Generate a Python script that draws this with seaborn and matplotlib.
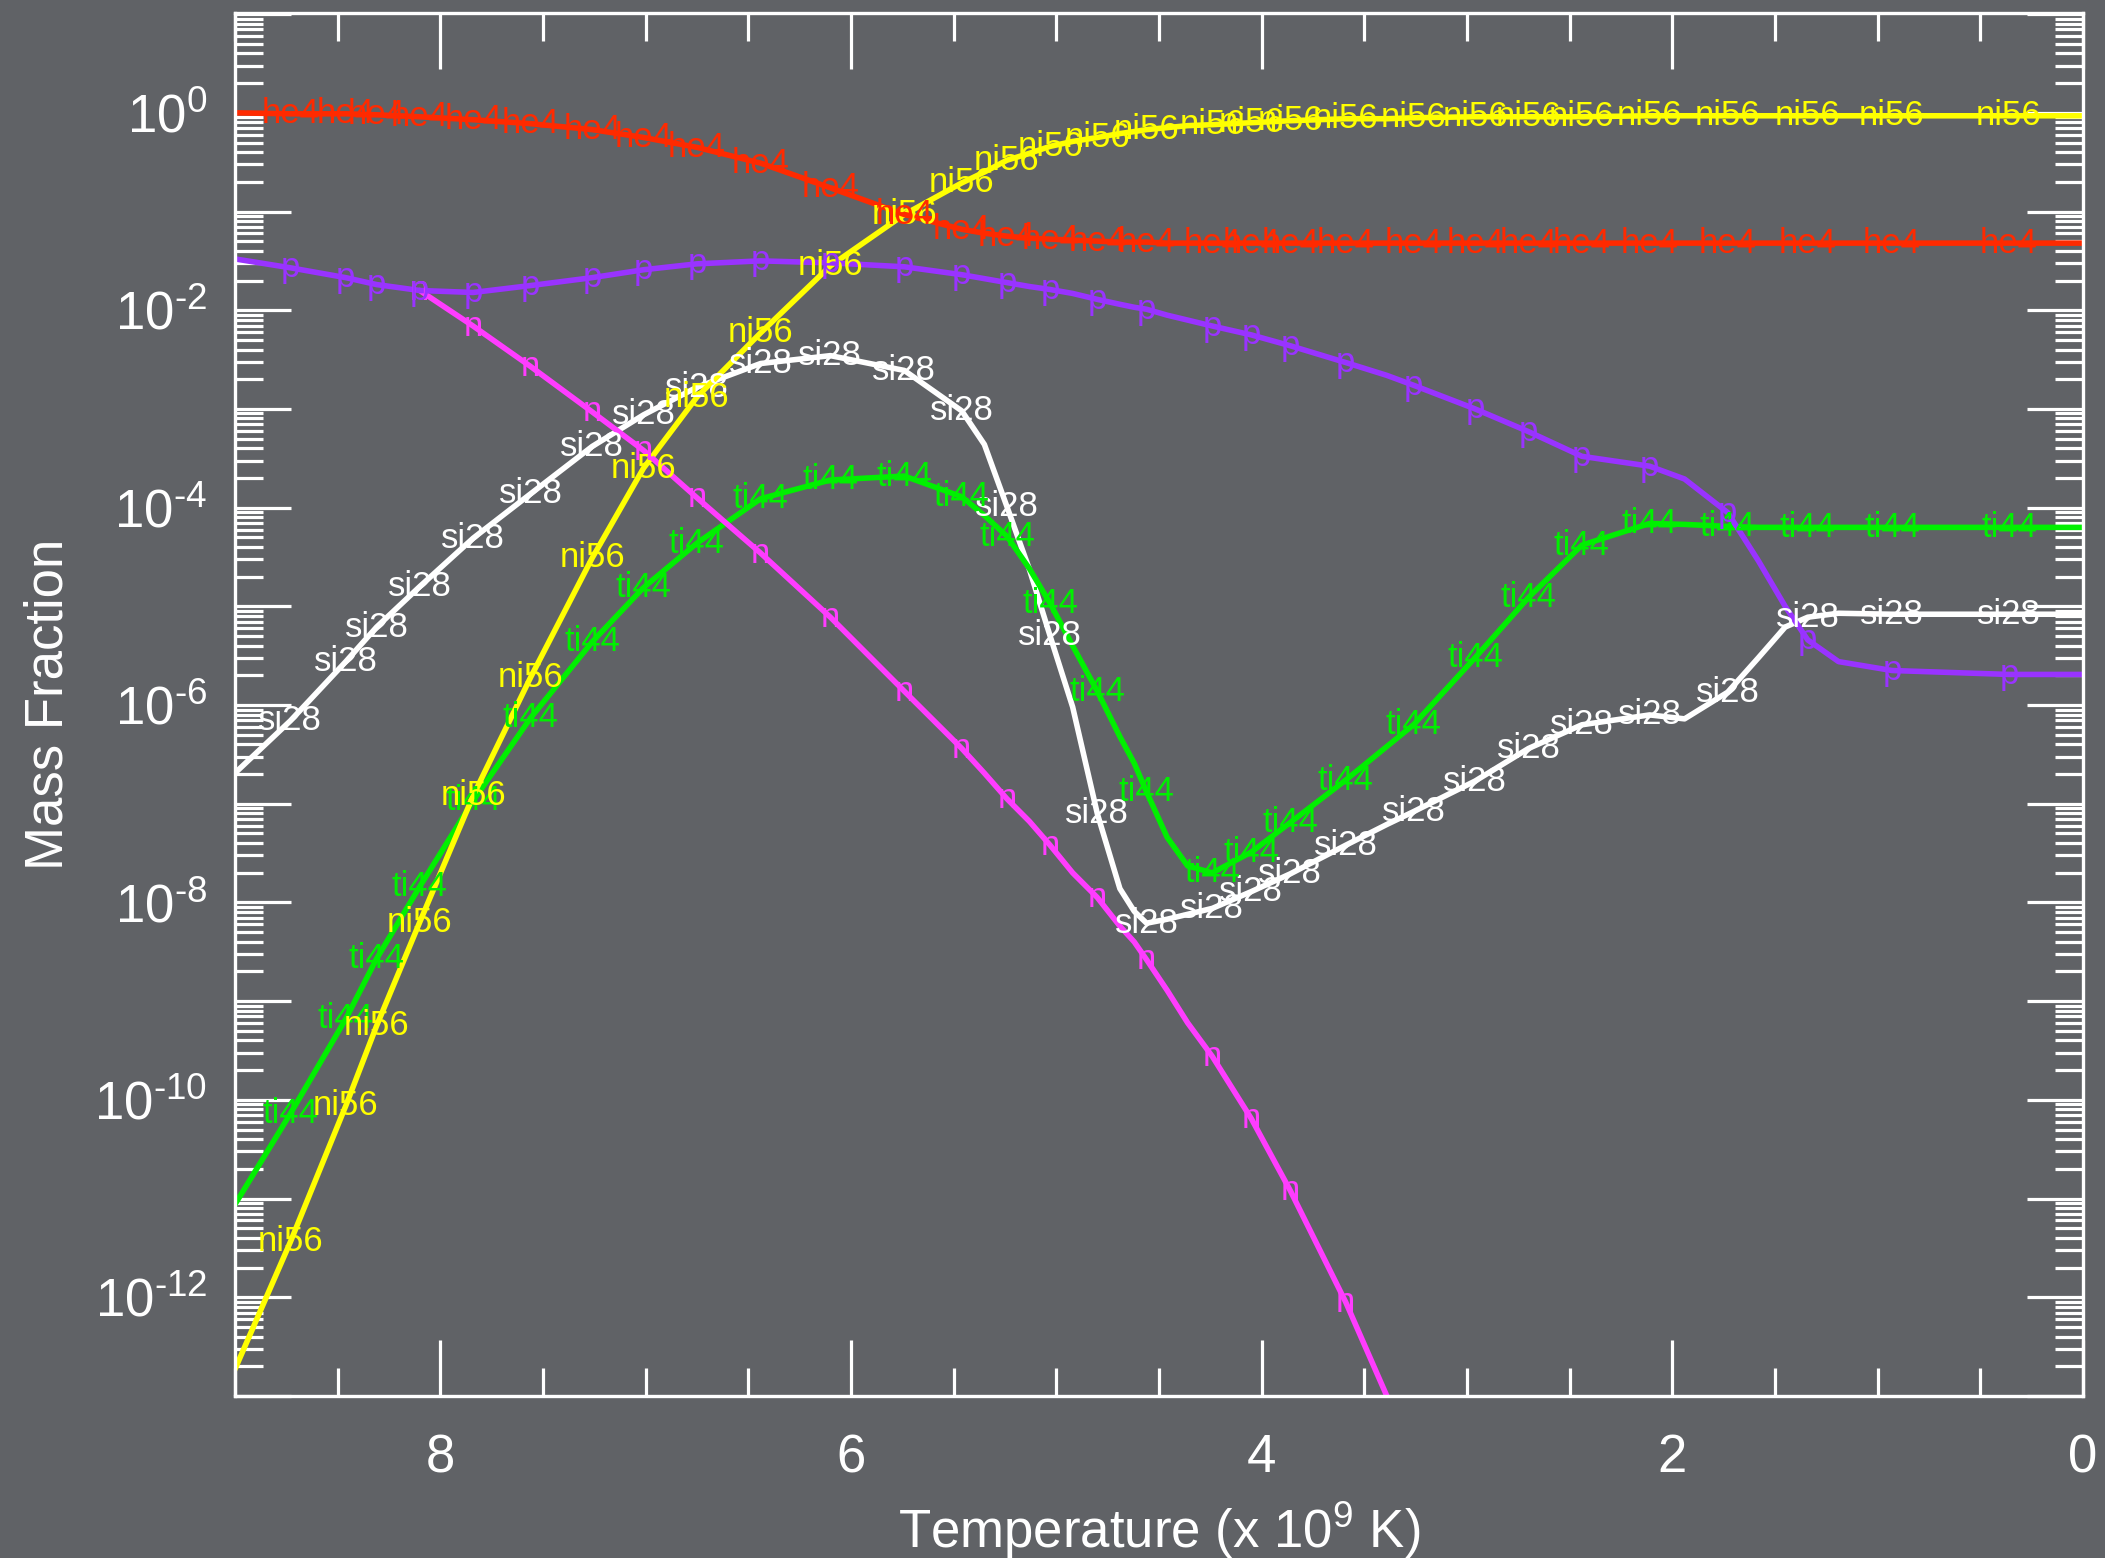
import numpy as np
import pandas as pd
import matplotlib
matplotlib.use("Agg")
import matplotlib.pyplot as plt
import seaborn as sns
from matplotlib.ticker import MultipleLocator, LogLocator, FuncFormatter, NullFormatter
from matplotlib.mathtext import MathTextParser

# ---------------- data (log10 mass fraction) ----------------
temp = [9.00, 8.73, 8.46, 8.31, 8.10, 7.84, 7.56, 7.26, 7.01, 6.75, 6.44, 6.10, 5.74,
        5.46, 5.35, 5.24, 5.13, 5.03, 4.92, 4.80, 4.69, 4.62, 4.56, 4.46, 4.36, 4.24,
        4.05, 3.86, 3.59, 3.39, 3.26, 2.96, 2.70, 2.44, 2.11, 1.94, 1.73, 1.58, 1.45,
        1.34, 1.19, 0.93, 0.36, 0.00]

label_temp = [8.73, 8.46, 8.31, 8.10, 7.84, 7.56, 7.26, 7.01, 6.75, 6.44, 6.10, 5.74,
              5.46, 5.24, 5.03, 4.80, 4.56, 4.24, 4.05, 3.86, 3.59, 3.26, 2.96, 2.70,
              2.44, 2.11, 1.73, 1.34, 0.93, 0.36]

he4 = [0.00, -0.01, -0.01, -0.02, -0.04, -0.07, -0.11, -0.17, -0.25, -0.35, -0.51, -0.76,
       -1.03, -1.18, -1.22, -1.25, -1.27, -1.28, -1.29, -1.30, -1.31, -1.31, -1.31, -1.32,
       -1.32, -1.32, -1.32, -1.32, -1.32, -1.32, -1.32, -1.32, -1.32, -1.32, -1.32, -1.32,
       -1.32, -1.32, -1.32, -1.32, -1.32, -1.32, -1.32, -1.32]

ni56 = [-12.73, -11.44, -10.06, -9.25, -8.20, -6.92, -5.72, -4.51, -3.60, -2.88, -2.23,
        -1.55, -1.03, -0.71, -0.60, -0.48, -0.41, -0.34, -0.29, -0.25, -0.21, -0.19, -0.17,
        -0.15, -0.13, -0.12, -0.10, -0.08, -0.06, -0.06, -0.05, -0.04, -0.04, -0.04, -0.03,
        -0.03, -0.03, -0.03, -0.03, -0.03, -0.03, -0.03, -0.03, -0.03]

ti44 = [-11.06, -10.14, -9.18, -8.57, -7.84, -6.97, -6.13, -5.36, -4.81, -4.36, -3.91,
        -3.72, -3.68, -3.89, -4.08, -4.29, -4.62, -4.97, -5.40, -5.86, -6.32, -6.59, -6.88,
        -7.34, -7.63, -7.70, -7.49, -7.19, -6.76, -6.42, -6.20, -5.52, -4.91, -4.38, -4.16,
        -4.17, -4.19, -4.20, -4.20, -4.20, -4.20, -4.20, -4.20, -4.20]

si28 = [-6.69, -6.16, -5.56, -5.21, -4.80, -4.31, -3.86, -3.38, -3.06, -2.78, -2.54,
        -2.46, -2.61, -3.02, -3.36, -3.99, -4.63, -5.30, -6.02, -7.10, -7.86, -8.09, -8.21,
        -8.17, -8.12, -8.06, -7.89, -7.71, -7.42, -7.21, -7.08, -6.77, -6.44, -6.20, -6.10,
        -6.14, -5.87, -5.52, -5.21, -5.11, -5.07, -5.08, -5.08, -5.08]

p = [-1.48, -1.57, -1.67, -1.74, -1.80, -1.82, -1.75, -1.67, -1.59, -1.53, -1.50, -1.52,
     -1.56, -1.64, -1.68, -1.72, -1.76, -1.79, -1.83, -1.89, -1.94, -1.97, -1.99, -2.05,
     -2.10, -2.16, -2.25, -2.36, -2.53, -2.66, -2.76, -3.00, -3.23, -3.48, -3.58, -3.71,
     -4.05, -4.54, -5.00, -5.34, -5.56, -5.65, -5.69, -5.69]

n = [None, None, None, None, -1.80, -2.16, -2.57, -3.03, -3.42, -3.90, -4.46, -5.11,
     -5.86, -6.44, -6.69, -6.95, -7.18, -7.42, -7.70, -7.95, -8.24, -8.40, -8.58, -8.89,
     -9.22, -9.56, -10.19, -10.92, -12.05, -13.00, -13.61, None, None, None, None, None,
     None, None, None, None, None, None, None, None]

species_order = ["si28", "ti44", "ni56", "he4", "n", "p"]
series = {"he4": he4, "ni56": ni56, "ti44": ti44, "si28": si28, "p": p, "n": n}
colors = {"he4": "#ff2a00", "ni56": "#ffff00", "ti44": "#00f000",
          "si28": "#ffffff", "p": "#9933ff", "n": "#ff3cff"}

rows = []
for name in species_order:
    for t, v in zip(temp, series[name]):
        if v is not None:
            rows.append((t, 10.0 ** v, name))
df = pd.DataFrame(rows, columns=["T", "X", "species"])

# ---------------- style ----------------
bg = "#606266"
sns.set_theme(style="ticks")
plt.rcParams["font.family"] = ["Liberation Sans", "DejaVu Sans"]
plt.rcParams["mathtext.fontset"] = "custom"
plt.rcParams["mathtext.rm"] = "Liberation Sans"
plt.rcParams["mathtext.default"] = "regular"

# short hyphen in the exponents, as in the reference (fallback to normal minus)
try:
    MathTextParser("agg").parse(r"$10^{\text{-}2}$", dpi=100)
    HY = r"\text{-}"
except Exception:
    HY = "-"

fig = plt.figure(figsize=(21.05, 15.58), dpi=100, facecolor=bg)
ax = fig.add_axes([0.1116, 0.104, 0.8779, 0.8877])
ax.set_facecolor(bg)

sns.lineplot(data=df, x="T", y="X", hue="species", hue_order=species_order,
             palette=colors, sort=False, estimator=None, legend=False,
             linewidth=4.0, ax=ax)

ax.set_yscale("log")
ax.set_xlim(9, 0)
ymin, ymax = 1e-13, 10 ** 1.012
ax.set_ylim(ymin, ymax)

# curve labels at sampled points
for name in species_order:
    vals = series[name]
    for t, v in zip(temp, vals):
        if v is None or t not in label_temp:
            continue
        y = 10.0 ** v
        if y < ymin or y > ymax:
            continue
        ax.text(t, y, name, color=colors[name], fontsize=25, ha="center",
                va="center", clip_on=True, zorder=5)

# ticks
ax.xaxis.set_major_locator(MultipleLocator(2))
ax.xaxis.set_minor_locator(MultipleLocator(0.5))
ax.xaxis.set_major_formatter(FuncFormatter(lambda v, pos: f"{v:.0f}"))
ax.yaxis.set_major_locator(LogLocator(base=10, numticks=40))
ax.yaxis.set_minor_locator(LogLocator(base=10, subs=np.arange(2, 10), numticks=40))
ax.yaxis.set_minor_formatter(NullFormatter())


def yfmt(v, pos):
    e = int(round(np.log10(v)))
    if e % 2 != 0:
        return ""
    if e < 0:
        return r"$\mathregular{10^{%s%d}}$" % (HY, -e)
    return r"$\mathregular{10^{%d}}$" % e


ax.yaxis.set_major_formatter(FuncFormatter(yfmt))

ax.tick_params(axis="both", which="both", direction="in", top=True, right=True,
               color="white", labelcolor="white", width=2.3)
ax.tick_params(axis="both", which="major", length=40, labelsize=38)
ax.tick_params(axis="both", which="minor", length=20)
ax.tick_params(axis="x", which="major", pad=27)
ax.tick_params(axis="y", which="major", pad=20)

for s in ax.spines.values():
    s.set_color("white")
    s.set_linewidth(2.4)

ax.set_xlabel(r"Temperature (x $\mathregular{10^9}$ K)", color="white", fontsize=38)
ax.set_ylabel("Mass Fraction", color="white", fontsize=38)
ax.xaxis.set_label_coords(0.5, -0.097)
ax.xaxis.label.set_va("center")
ax.yaxis.set_label_coords(-0.101, 0.5)
ax.yaxis.label.set_va("center")

fig.savefig("out.png", dpi=100, facecolor=bg)
